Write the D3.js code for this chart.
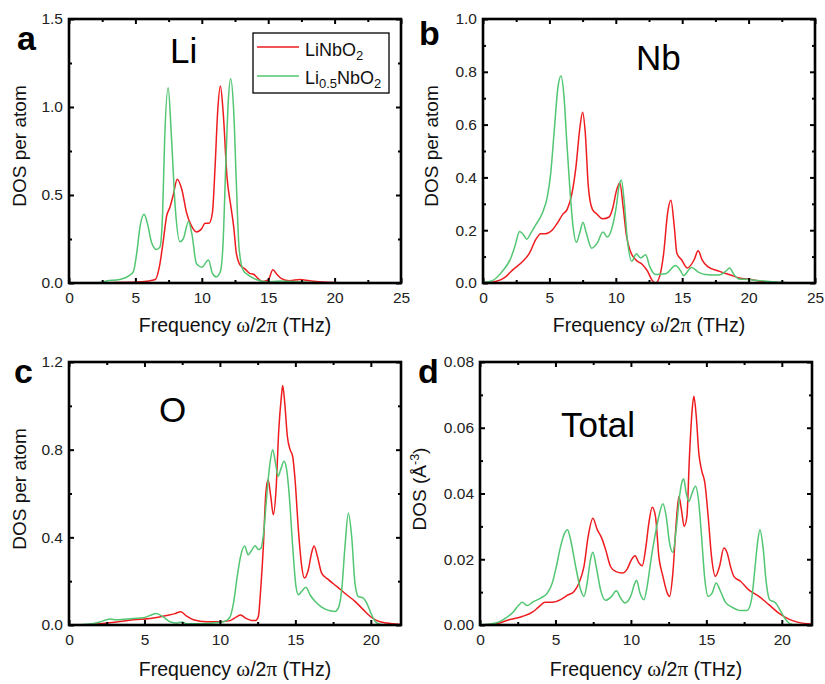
<!DOCTYPE html>
<html>
<head>
<meta charset="utf-8">
<script src="https://cdn.jsdelivr.net/npm/d3@7"></script>
<style>
  html, body { margin: 0; padding: 0; background: #fff; }
  svg { display: block; font-family: "Liberation Sans", Arial, Helvetica, sans-serif; }
</style>
</head>
<body>
<svg id="chart" width="825" height="684"></svg>
<script>
// ---------------- DATA (frequency THz, DOS) ----------------
const seriesNames = ["LiNbO2", "Li0.5NbO2"];

const liRed = [[0,0],[3,0.002],[5,0.005],[5.85,0.01],[6.5,0.02],[6.8,0.09],[7.1,0.24],[7.35,0.38],[7.6,0.43],[7.85,0.5],[8.15,0.59],[8.5,0.53],[8.85,0.40],[9.25,0.32],[9.6,0.29],[10.0,0.31],[10.25,0.34],[10.55,0.34],[10.8,0.40],[11.0,0.66],[11.2,0.98],[11.4,1.12],[11.6,0.98],[11.9,0.60],[12.2,0.43],[12.4,0.32],[12.6,0.17],[12.9,0.10],[13.25,0.08],[13.6,0.055],[13.9,0.05],[14.25,0.025],[14.6,0.008],[15.0,0.017],[15.35,0.075],[15.65,0.05],[16.0,0.025],[16.6,0.013],[17.4,0.02],[18.1,0.013],[19.1,0.006],[19.9,0.003],[21,0.001],[22.9,0]];
const liGreen = [[0,0],[2.5,0.003],[2.8,0.011],[3.8,0.02],[4.5,0.04],[4.85,0.065],[5.1,0.17],[5.35,0.32],[5.65,0.39],[5.9,0.34],[6.2,0.235],[6.6,0.19],[6.85,0.205],[7.05,0.40],[7.2,0.81],[7.47,1.11],[7.7,0.85],[8.0,0.43],[8.35,0.235],[8.6,0.25],[9.0,0.35],[9.25,0.28],[9.6,0.11],[10.0,0.09],[10.5,0.13],[10.8,0.055],[11.1,0.035],[11.4,0.065],[11.6,0.225],[11.8,0.66],[12.0,1.04],[12.17,1.16],[12.4,0.98],[12.6,0.57],[12.8,0.205],[13.1,0.075],[13.5,0.045],[14.1,0.02],[14.9,0.006],[15.9,0.011],[17.4,0.006],[18.9,0.002],[20,0],[23,0]];

const nbRed = [[0,0],[0.7,0.003],[1.7,0.023],[2.2,0.048],[3.0,0.082],[3.5,0.113],[3.97,0.164],[4.35,0.187],[4.7,0.187],[5.2,0.2],[5.6,0.227],[6.0,0.26],[6.35,0.28],[6.7,0.34],[7.0,0.44],[7.3,0.59],[7.5,0.647],[7.7,0.57],[7.93,0.366],[8.23,0.28],[8.6,0.26],[9.0,0.243],[9.5,0.25],[9.75,0.28],[10.05,0.35],[10.3,0.38],[10.55,0.29],[10.8,0.18],[11.1,0.12],[11.5,0.088],[12.0,0.07],[12.4,0.044],[12.7,0.013],[13.0,0],[13.3,0.025],[13.6,0.11],[13.9,0.265],[14.15,0.313],[14.4,0.215],[14.6,0.113],[14.95,0.088],[15.4,0.057],[15.9,0.088],[16.2,0.122],[16.5,0.088],[16.9,0.063],[17.8,0.044],[18.65,0.03],[19.3,0.019],[20.0,0.015],[21.0,0.006],[22.3,0.001],[23.0,0]];
const nbGreen = [[0,0.002],[0.7,0.009],[1.45,0.044],[2.1,0.095],[2.4,0.139],[2.76,0.195],[3.04,0.183],[3.3,0.166],[3.6,0.189],[3.97,0.22],[4.47,0.265],[4.85,0.328],[5.1,0.416],[5.35,0.567],[5.65,0.744],[5.87,0.784],[6.1,0.706],[6.3,0.542],[6.53,0.366],[6.78,0.214],[7.03,0.154],[7.28,0.189],[7.53,0.23],[7.78,0.189],[8.18,0.132],[8.6,0.151],[9.04,0.193],[9.36,0.174],[9.74,0.214],[10.04,0.29],[10.24,0.366],[10.42,0.39],[10.62,0.315],[10.87,0.164],[11.2,0.082],[11.55,0.111],[11.87,0.095],[12.25,0.107],[12.55,0.063],[13.0,0.032],[13.75,0.035],[14.5,0.066],[14.9,0.044],[15.1,0.028],[15.7,0.059],[16.25,0.04],[16.75,0.032],[17.77,0.03],[18.27,0.044],[18.57,0.057],[18.9,0.032],[19.28,0.015],[20.0,0.013],[20.8,0.009],[21.8,0.005],[23.0,0.001]];

const oRed = [[0,0],[0.95,0.001],[2.05,0.006],[3.16,0.014],[4.26,0.024],[5.37,0.03],[6.47,0.043],[7.02,0.052],[7.4,0.061],[7.8,0.04],[8.24,0.024],[9.12,0.015],[10.0,0.015],[10.67,0.02],[11.1,0.037],[11.37,0.046],[11.73,0.03],[12.1,0.021],[12.37,0.021],[12.55,0.04],[12.7,0.16],[12.88,0.36],[13.04,0.6],[13.19,0.663],[13.37,0.587],[13.54,0.503],[13.72,0.617],[13.9,0.89],[14.07,1.04],[14.16,1.093],[14.3,1.01],[14.47,0.86],[14.65,0.8],[14.82,0.77],[14.98,0.663],[15.2,0.435],[15.42,0.268],[15.6,0.214],[15.86,0.252],[16.08,0.33],[16.24,0.36],[16.46,0.313],[16.74,0.237],[17.19,0.207],[17.74,0.176],[18.4,0.138],[18.95,0.108],[19.5,0.07],[19.95,0.04],[20.4,0.02],[21.05,0.009],[21.9,0.003]];
const oGreen = [[0,0],[1.17,0.003],[2.05,0.014],[2.72,0.027],[3.16,0.024],[4.26,0.03],[4.93,0.033],[5.37,0.044],[5.77,0.052],[6.25,0.037],[6.69,0.015],[7.13,0.009],[7.47,0.014],[7.8,0.006],[8.68,0.006],[9.57,0.009],[10.23,0.015],[10.63,0.032],[10.9,0.1],[11.15,0.222],[11.37,0.313],[11.64,0.36],[11.88,0.32],[12.1,0.34],[12.33,0.362],[12.55,0.344],[12.72,0.35],[12.92,0.435],[13.1,0.587],[13.32,0.74],[13.5,0.8],[13.68,0.74],[13.85,0.678],[14.03,0.71],[14.25,0.747],[14.42,0.71],[14.6,0.587],[14.82,0.36],[15.04,0.176],[15.2,0.138],[15.42,0.154],[15.7,0.172],[15.97,0.138],[16.3,0.108],[16.74,0.082],[17.3,0.065],[17.63,0.062],[17.85,0.078],[18.07,0.16],[18.29,0.36],[18.51,0.51],[18.73,0.405],[18.95,0.19],[19.17,0.13],[19.5,0.123],[19.73,0.1],[20.0,0.055],[20.28,0.017],[20.6,0.003],[21.05,0],[22,0]];

const totRed = [[0,0],[1.04,0.0003],[1.92,0.0016],[2.8,0.0026],[3.47,0.0039],[3.9,0.0055],[4.3,0.0069],[4.79,0.0069],[5.34,0.0077],[5.78,0.009],[6.23,0.0102],[6.56,0.0128],[6.89,0.0178],[7.17,0.027],[7.48,0.0325],[7.77,0.029],[8.06,0.0265],[8.32,0.023],[8.65,0.0178],[8.98,0.0163],[9.43,0.0158],[9.76,0.0171],[10.04,0.0199],[10.27,0.0211],[10.53,0.0189],[10.75,0.018],[10.97,0.023],[11.19,0.031],[11.41,0.0358],[11.63,0.033],[11.85,0.0209],[12.12,0.0148],[12.41,0.0097],[12.56,0.0087],[12.78,0.0158],[13.0,0.031],[13.18,0.0391],[13.35,0.035],[13.53,0.030],[13.71,0.033],[13.88,0.0513],[14.06,0.0655],[14.17,0.0696],[14.33,0.0635],[14.5,0.0523],[14.68,0.0472],[14.9,0.0432],[15.12,0.033],[15.34,0.0209],[15.6,0.0148],[15.87,0.0178],[16.16,0.0234],[16.38,0.0219],[16.6,0.0178],[16.82,0.0148],[17.26,0.0133],[17.81,0.0107],[18.48,0.0087],[19.14,0.0062],[19.8,0.0036],[20.46,0.0018],[21.1,0.0008],[22.0,0.0003]];
const totGreen = [[0,0],[1.04,0.0006],[1.7,0.0021],[2.25,0.0042],[2.54,0.0059],[2.8,0.0069],[3.13,0.0059],[3.47,0.0069],[4.02,0.0082],[4.46,0.0097],[4.79,0.0128],[5.06,0.0178],[5.34,0.0239],[5.63,0.0282],[5.8,0.029],[6.0,0.026],[6.34,0.0178],[6.67,0.0107],[6.89,0.0087],[7.1,0.0128],[7.32,0.0199],[7.48,0.0221],[7.7,0.0178],[7.99,0.0107],[8.32,0.0075],[8.72,0.0087],[9.03,0.0104],[9.32,0.0082],[9.6,0.0067],[9.98,0.0087],[10.27,0.0128],[10.38,0.0136],[10.6,0.0097],[10.86,0.0077],[11.08,0.0118],[11.3,0.0189],[11.59,0.027],[11.85,0.033],[12.12,0.0369],[12.34,0.033],[12.56,0.025],[12.78,0.0221],[13.0,0.029],[13.22,0.0391],[13.44,0.0442],[13.5,0.0444],[13.66,0.0402],[13.84,0.0376],[14.06,0.0402],[14.28,0.0422],[14.5,0.0371],[14.68,0.027],[14.9,0.0138],[15.12,0.0087],[15.38,0.0097],[15.65,0.0128],[15.94,0.0102],[16.27,0.0069],[16.71,0.0054],[17.26,0.0044],[17.7,0.0044],[17.99,0.0077],[18.21,0.0168],[18.39,0.025],[18.55,0.029],[18.75,0.0239],[18.97,0.0128],[19.19,0.0077],[19.59,0.0067],[19.92,0.0042],[20.24,0.0018],[20.57,0.0003],[20.9,0],[22,0]];

// tick values
const xTicks25 = [0, 5, 10, 15, 20, 25];
const xTicks22 = [0, 5, 10, 15, 20];
const yTicksA = [0, 0.5, 1.0, 1.5];
const yTicksB = [0, 0.2, 0.4, 0.6, 0.8, 1.0];
const yTicksC = [0, 0.4, 0.8, 1.2];
const yTicksD = [0, 0.02, 0.04, 0.06, 0.08];

// ---------------- DRAWING ----------------
const RED = "#ee1c1f";
const GREEN = "#52c672";
const svg = d3.select("#chart");

const panels = [
  { id: "a", red: liRed, green: liGreen, xMax: 25, yMax: 1.5, xTicks: xTicks25, yTicks: yTicksA, yMinorStep: 0.25, yFmt: ".1f",
    box: [69, 19, 401, 283], title: "Li", titlePos: [170, 63], letterPos: [17, 50],
    xTitleY: 332, yTitleX: 26, yTitleY: 146, yLabel: "DOS per atom" },
  { id: "b", red: nbRed, green: nbGreen, xMax: 25, yMax: 1.0, xTicks: xTicks25, yTicks: yTicksB, yMinorStep: 0.1, yFmt: ".1f",
    box: [483, 19, 815, 283], title: "Nb", titlePos: [636, 70], letterPos: [419, 45],
    xTitleY: 332, yTitleX: 438, yTitleY: 146, yLabel: "DOS per atom" },
  { id: "c", red: oRed, green: oGreen, xMax: 22, yMax: 1.2, xTicks: xTicks22, yTicks: yTicksC, yMinorStep: 0.2, yFmt: ".1f",
    box: [69, 362, 401, 625], title: "O", titlePos: [159, 422], letterPos: [14, 383],
    xTitleY: 676, yTitleX: 26, yTitleY: 489, yLabel: "DOS per atom" },
  { id: "d", red: totRed, green: totGreen, xMax: 22, yMax: 0.08, xTicks: xTicks22, yTicks: yTicksD, yMinorStep: 0.01, yFmt: ".2f",
    box: [480, 362, 812, 625], title: "Total", titlePos: [561, 437], letterPos: [418, 383],
    xTitleY: 676, yTitleX: 426, yTitleY: 489, yLabel: null }
];

function range(a, b, step) {
  const out = [];
  for (let v = a; v <= b + 1e-9; v += step) out.push(+v.toFixed(6));
  return out;
}

panels.forEach(p => {
  const [L, T, R, B] = p.box;
  const x = d3.scaleLinear().domain([0, p.xMax]).range([L, R]);
  const y = d3.scaleLinear().domain([0, p.yMax]).range([B, T]);
  const g = svg.append("g");

  const clipId = "clip-" + p.id;
  svg.append("clipPath").attr("id", clipId)
    .append("rect").attr("x", L).attr("y", T).attr("width", R - L).attr("height", B - T);

  const line = d3.line().x(d => x(d[0])).y(d => y(d[1])).curve(d3.curveMonotoneX);

  g.append("path").datum(p.red).attr("d", line)
    .attr("fill", "none").attr("stroke", RED).attr("stroke-width", 1.5)
    .attr("clip-path", `url(#${clipId})`);
  g.append("path").datum(p.green).attr("d", line)
    .attr("fill", "none").attr("stroke", GREEN).attr("stroke-width", 1.5)
    .attr("clip-path", `url(#${clipId})`);

  const xMinor = range(0, p.xMax, 2.5).filter(v => !p.xTicks.includes(v));
  const yMinor = range(0, p.yMax, p.yMinorStep).filter(v => !p.yTicks.some(t => Math.abs(t - v) < 1e-9));

  function styleAxis(sel) {
    sel.select(".domain").remove();
    sel.selectAll(".tick line").attr("stroke", "#000").attr("stroke-width", 2);
    sel.selectAll(".tick text").attr("fill", "#222").style("font-size", "15.5px");
  }

  // bottom
  g.append("g").attr("transform", `translate(0,${B})`)
    .call(d3.axisBottom(x).tickValues(p.xTicks).tickSizeInner(-5).tickSizeOuter(0).tickPadding(9).tickFormat(d3.format("d")))
    .call(styleAxis);
  g.append("g").attr("transform", `translate(0,${B})`)
    .call(d3.axisBottom(x).tickValues(xMinor).tickSizeInner(-3).tickSizeOuter(0).tickFormat(""))
    .call(styleAxis);
  // top
  g.append("g").attr("transform", `translate(0,${T})`)
    .call(d3.axisTop(x).tickValues(p.xTicks).tickSizeInner(-5).tickSizeOuter(0).tickFormat(""))
    .call(styleAxis);
  g.append("g").attr("transform", `translate(0,${T})`)
    .call(d3.axisTop(x).tickValues(xMinor).tickSizeInner(-3).tickSizeOuter(0).tickFormat(""))
    .call(styleAxis);
  // left
  g.append("g").attr("transform", `translate(${L},0)`)
    .call(d3.axisLeft(y).tickValues(p.yTicks).tickSizeInner(-5).tickSizeOuter(0).tickPadding(6).tickFormat(d3.format(p.yFmt)))
    .call(styleAxis);
  g.append("g").attr("transform", `translate(${L},0)`)
    .call(d3.axisLeft(y).tickValues(yMinor).tickSizeInner(-3).tickSizeOuter(0).tickFormat(""))
    .call(styleAxis);
  // right
  g.append("g").attr("transform", `translate(${R},0)`)
    .call(d3.axisRight(y).tickValues(p.yTicks).tickSizeInner(-5).tickSizeOuter(0).tickFormat(""))
    .call(styleAxis);
  g.append("g").attr("transform", `translate(${R},0)`)
    .call(d3.axisRight(y).tickValues(yMinor).tickSizeInner(-3).tickSizeOuter(0).tickFormat(""))
    .call(styleAxis);

  // frame
  g.append("rect").attr("x", L).attr("y", T).attr("width", R - L).attr("height", B - T)
    .attr("fill", "none").attr("stroke", "#000").attr("stroke-width", 2.6);

  // x title
  const xt = g.append("text").attr("x", (L + R) / 2).attr("y", p.xTitleY)
    .attr("text-anchor", "middle").style("font-size", "19.5px").attr("fill", "#111");
  xt.append("tspan").text("Frequency ");
  xt.append("tspan").style("font-family", "'Liberation Serif', 'Times New Roman', serif").style("font-size", "21px").text("ω");
  xt.append("tspan").text("/2");
  xt.append("tspan").style("font-family", "'Liberation Serif', 'Times New Roman', serif").style("font-size", "21px").text("π");
  xt.append("tspan").text(" (THz)");

  // y title
  const yt = g.append("text").attr("transform", `translate(${p.yTitleX},${p.yTitleY}) rotate(-90)`)
    .attr("text-anchor", "middle").style("font-size", "19px").attr("fill", "#111");
  if (p.yLabel) {
    yt.text(p.yLabel);
  } else {
    yt.append("tspan").text("DOS (Å");
    yt.append("tspan").attr("dy", -7).style("font-size", "12.5px").text("-3");
    yt.append("tspan").attr("dy", 7).text(")");
  }

  // element title
  g.append("text").attr("x", p.titlePos[0]).attr("y", p.titlePos[1])
    .style("font-size", "35px").attr("fill", "#000").text(p.title);

  // panel letter
  g.append("text").attr("x", p.letterPos[0]).attr("y", p.letterPos[1])
    .style("font-size", "34px").style("font-weight", "bold").attr("fill", "#000").text(p.id);
});

// ---------------- LEGEND (panel a) ----------------
const lg = svg.append("g");
lg.append("rect").attr("x", 253).attr("y", 33).attr("width", 136).attr("height", 60)
  .attr("fill", "#fff").attr("stroke", "#000").attr("stroke-width", 1.3);
const legendRows = [
  { color: RED, main: "LiNbO", sub: "2", pre: null, ly: 47, ty: 56 },
  { color: GREEN, main: "NbO", sub: "2", pre: ["Li", "0.5"], ly: 76, ty: 84 }
];
legendRows.forEach(r => {
  lg.append("line").attr("x1", 257).attr("x2", 299).attr("y1", r.ly).attr("y2", r.ly)
    .attr("stroke", r.color).attr("stroke-width", 1.5);
  const t = lg.append("text").attr("x", 305).attr("y", r.ty).style("font-size", "18px").attr("fill", "#111");
  if (r.pre) {
    t.append("tspan").text(r.pre[0]);
    t.append("tspan").attr("dy", 4).style("font-size", "13px").text(r.pre[1]);
    t.append("tspan").attr("dy", -4).text(r.main);
  } else {
    t.append("tspan").text(r.main);
  }
  t.append("tspan").attr("dy", 4).style("font-size", "13px").text(r.sub);
});
</script>
</body>
</html>
